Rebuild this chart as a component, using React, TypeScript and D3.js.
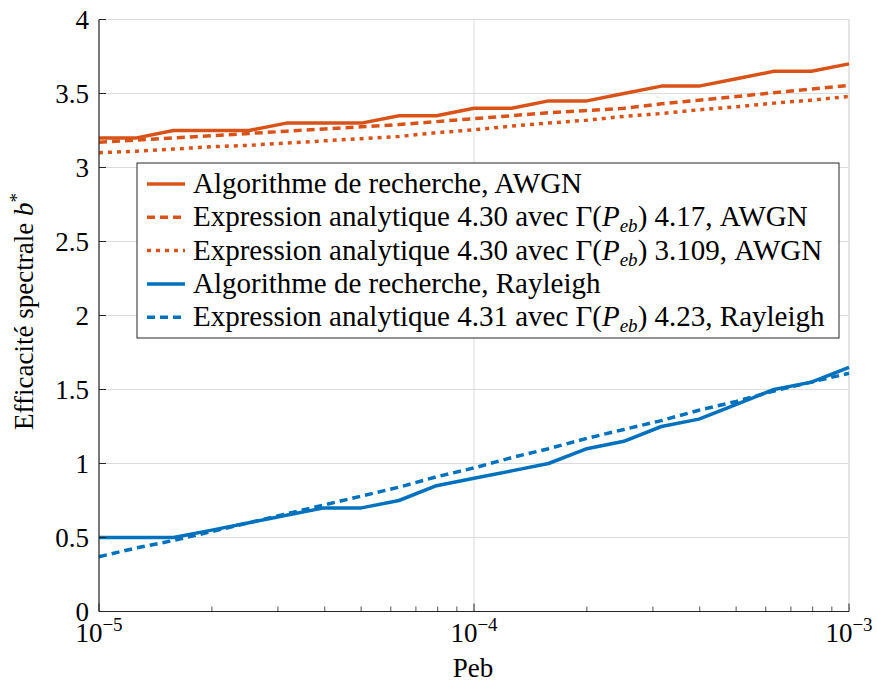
import React from "react";
import * as d3 from "d3";

const peb = [1e-5, 1.26e-5, 1.58e-5, 2e-5, 2.51e-5, 3.16e-5, 3.98e-5, 5.01e-5, 6.31e-5, 7.94e-5, 1e-4, 1.26e-4, 1.58e-4, 2e-4, 2.51e-4, 3.16e-4, 3.98e-4, 5.01e-4, 6.31e-4, 7.94e-4, 1e-3];
const awgnAlgo = [3.2, 3.2, 3.25, 3.25, 3.25, 3.3, 3.3, 3.3, 3.35, 3.35, 3.4, 3.4, 3.45, 3.45, 3.5, 3.55, 3.55, 3.6, 3.65, 3.65, 3.7];
const awgnExpr417 = [3.17, 3.185, 3.2, 3.215, 3.23, 3.245, 3.26, 3.275, 3.29, 3.31, 3.33, 3.35, 3.37, 3.385, 3.4, 3.43, 3.455, 3.48, 3.505, 3.53, 3.555];
const awgnExpr3109 = [3.1, 3.11, 3.125, 3.14, 3.15, 3.165, 3.18, 3.195, 3.21, 3.235, 3.255, 3.28, 3.3, 3.32, 3.345, 3.365, 3.39, 3.41, 3.435, 3.455, 3.48];
const rayAlgo = [0.5, 0.5, 0.5, 0.55, 0.6, 0.65, 0.7, 0.7, 0.75, 0.85, 0.9, 0.95, 1.0, 1.1, 1.15, 1.25, 1.3, 1.4, 1.5, 1.55, 1.65];
const rayExpr423 = [0.37, 0.43, 0.48, 0.54, 0.6, 0.66, 0.72, 0.78, 0.84, 0.91, 0.97, 1.04, 1.1, 1.17, 1.23, 1.29, 1.36, 1.42, 1.49, 1.55, 1.61];

const yTicks = [0, 0.5, 1, 1.5, 2, 2.5, 3, 3.5, 4];
const yTickLabels = ["0", "0.5", "1", "1.5", "2", "2.5", "3", "3.5", "4"];
const xMajor = [1e-5, 1e-4, 1e-3];
const xMajorExp = ["−5", "−4", "−3"];
const xMinor = [2e-5, 3e-5, 4e-5, 5e-5, 6e-5, 7e-5, 8e-5, 9e-5, 2e-4, 3e-4, 4e-4, 5e-4, 6e-4, 7e-4, 8e-4, 9e-4];

const ORANGE = "#D95319";
const BLUE = "#0072BD";
const DASH = "8,5";
const DOT = "4,5";

const FONT = "serif";

type Series = { vals: number[]; color: string; dash: string | null; label: React.ReactNode };

const gammaPeb = (
  <>
    Γ(<tspan fontStyle="italic">P</tspan>
    <tspan fontStyle="italic" fontSize={19} dy={6}>eb</tspan>
    <tspan dy={-6}>)</tspan>
  </>
);

const series: Series[] = [
  { vals: awgnAlgo, color: ORANGE, dash: null, label: <>Algorithme de recherche, AWGN</> },
  { vals: awgnExpr417, color: ORANGE, dash: DASH, label: <>Expression analytique 4.30 avec {gammaPeb} 4.17, AWGN</> },
  { vals: awgnExpr3109, color: ORANGE, dash: DOT, label: <>Expression analytique 4.30 avec {gammaPeb} 3.109, AWGN</> },
  { vals: rayAlgo, color: BLUE, dash: null, label: <>Algorithme de recherche, Rayleigh</> },
  { vals: rayExpr423, color: BLUE, dash: DASH, label: <>Expression analytique 4.31 avec {gammaPeb} 4.23, Rayleigh</> },
];

export default function App() {
  const L = 99, R = 849, T = 19.5, B = 611.5;
  const x = d3.scaleLog().domain([1e-5, 1e-3]).range([L, R]);
  const y = d3.scaleLinear().domain([0, 4]).range([B, T]);
  const line = d3.line<number>().x((_, i) => x(peb[i])).y((v) => y(v));
  const grid = "#dcdcdc";
  const axisC = "#262626";

  const legX = 137, legY = 163, legW = 702, legH = 175, rowH = 33.3;

  return (
    <svg width={877} height={682} fontFamily={FONT} style={{ position: "absolute", left: 0, top: 0, background: "#fff" }}>
      {yTicks.map((t) => (
        <line key={"gy" + t} x1={L} x2={R} y1={y(t)} y2={y(t)} stroke={grid} strokeWidth={1} />
      ))}
      {xMajor.map((t) => (
        <line key={"gx" + t} x1={x(t)} x2={x(t)} y1={T} y2={B} stroke={grid} strokeWidth={1} />
      ))}
      <line x1={L} x2={R} y1={T} y2={T} stroke={grid} />
      <line x1={R} x2={R} y1={T} y2={B} stroke={grid} />
      {series.map((s, i) => (
        <path key={"s" + i} d={line(s.vals) || ""} fill="none" stroke={s.color} strokeWidth={3.5}
          strokeDasharray={s.dash || undefined} strokeLinejoin="round" />
      ))}
      <line x1={L} x2={L} y1={T} y2={B} stroke={axisC} strokeWidth={1.2} />
      <line x1={L} x2={R} y1={B} y2={B} stroke={axisC} strokeWidth={1.2} />
      {yTicks.map((t) => (
        <line key={"yt" + t} x1={L} x2={L + 7} y1={y(t)} y2={y(t)} stroke={axisC} strokeWidth={1} />
      ))}
      {xMajor.map((t) => (
        <line key={"xt" + t} x1={x(t)} x2={x(t)} y1={B} y2={B - 8} stroke={axisC} strokeWidth={1} />
      ))}
      {xMinor.map((t) => (
        <line key={"xm" + t} x1={x(t)} x2={x(t)} y1={B} y2={B - 5} stroke={axisC} strokeWidth={0.8} />
      ))}
      {yTicks.map((t, i) => (
        <text key={"yl" + t} x={L - 10} y={y(t) + 9} textAnchor="end" fontSize={27} fontFamily={FONT}>
          {yTickLabels[i]}
        </text>
      ))}
      {xMajor.map((t, i) => (
        <text key={"xl" + t} x={x(t)} y={642} textAnchor="middle" fontSize={27} fontFamily={FONT}>
          10<tspan dy={-11} fontSize={19}>{xMajorExp[i]}</tspan>
        </text>
      ))}
      <text x={473} y={677} textAnchor="middle" fontSize={27} fontFamily={FONT}>Peb</text>
      <text transform={`translate(33, ${(T + B) / 2 - 4}) rotate(-90)`} textAnchor="middle" fontSize={27} fontFamily={FONT}>
        Efficacité spectrale <tspan fontStyle="italic">b</tspan><tspan dy={-10} fontSize={19}>*</tspan>
      </text>
      <rect x={legX} y={legY} width={legW} height={legH} fill="#fff" stroke="#262626" strokeWidth={1} />
      {series.map((s, i) => {
        const cy = legY + 21 + i * rowH;
        return (
          <g key={"lg" + i}>
            <line x1={legX + 10} x2={legX + 48} y1={cy} y2={cy} stroke={s.color} strokeWidth={3.5}
              strokeDasharray={s.dash || undefined} />
            <text x={legX + 56} y={cy + 9} fontSize={29} fontFamily={FONT}>{s.label}</text>
          </g>
        );
      })}
    </svg>
  );
}
